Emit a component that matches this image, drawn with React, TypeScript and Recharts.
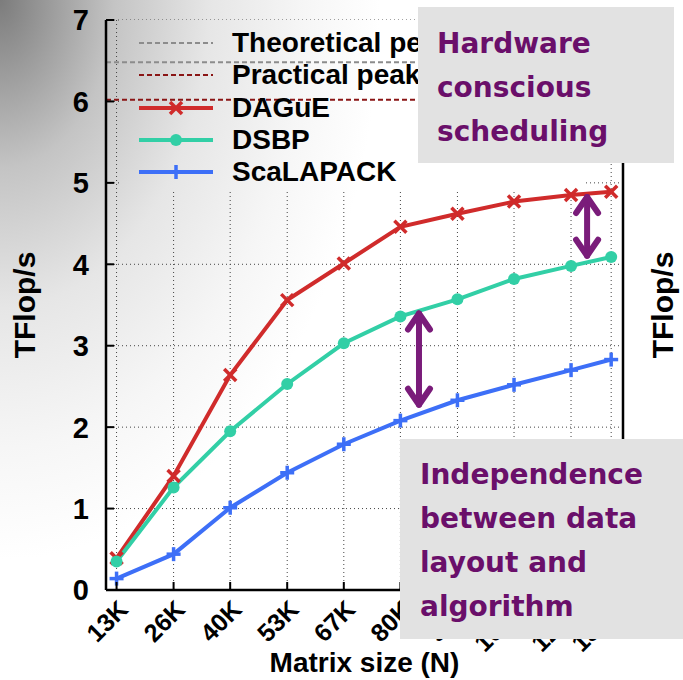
import React from 'react';
import { LineChart, Line, XAxis, YAxis, CartesianGrid, ReferenceLine, ReferenceArea, Legend, Label } from 'recharts';

const matrixSizes = [13.4, 26.9, 40.3, 53.8, 67.2, 80.6, 94.1, 107.5, 121.0, 130.5];
const sizeLabels = ['13K', '26K', '40K', '53K', '67K', '80K', '94K', '108K', '121K', '130K'];
const dague = [0.39, 1.4, 2.64, 3.56, 4.01, 4.46, 4.62, 4.77, 4.85, 4.89];
const dsbp = [0.35, 1.26, 1.95, 2.53, 3.03, 3.36, 3.57, 3.82, 3.98, 4.09];
const scalapack = [0.14, 0.44, 1.01, 1.44, 1.79, 2.08, 2.33, 2.52, 2.7, 2.83];
const yTicks = [0, 1, 2, 3, 4, 5, 6, 7];
const theoreticalPeak = 6.48;
const practicalPeak = 6.02;

const data = matrixSizes.map((n, i) => ({ n, dague: dague[i], dsbp: dsbp[i], scalapack: scalapack[i] }));

const FONT = "'Liberation Sans', Arial, sans-serif";
const RED = '#d02b2b';
const TEAL = '#32cfa6';
const BLUE = '#3d6ff7';
const GRAY = '#8c8c8c';
const DARKRED = '#8a1515';
const PURPLE = '#7a1c7a';
const TEXT_PURPLE = '#6a0f6a';

const legendItems = [
  { name: 'Theoretical peak', color: GRAY, dash: '5 3', width: 2, marker: 'none' },
  { name: 'Practical peak', color: DARKRED, dash: '5 3', width: 2, marker: 'none' },
  { name: 'DAGuE', color: RED, dash: undefined, width: 4, marker: 'cross' },
  { name: 'DSBP', color: TEAL, dash: undefined, width: 4, marker: 'circle' },
  { name: 'ScaLAPACK', color: BLUE, dash: undefined, width: 4, marker: 'plus' },
];

const marker = (kind: string, cx: number, cy: number, color: string, key?: any) => {
  if (kind === 'cross') {
    const s = 6;
    return (
      <g key={key} stroke={color} strokeWidth={3.5}>
        <line x1={cx - s} y1={cy - s} x2={cx + s} y2={cy + s} />
        <line x1={cx - s} y1={cy + s} x2={cx + s} y2={cy - s} />
      </g>
    );
  }
  if (kind === 'circle') return <circle key={key} cx={cx} cy={cy} r={6} fill={color} />;
  if (kind === 'plus') {
    const s = 7;
    return (
      <g key={key} stroke={color} strokeWidth={3.5}>
        <line x1={cx - s} y1={cy} x2={cx + s} y2={cy} />
        <line x1={cx} y1={cy - s} x2={cx} y2={cy + s} />
      </g>
    );
  }
  return null;
};

const makeDot = (kind: string, color: string) => (p: any) => marker(kind, p.cx, p.cy, color, p.index);

const BottomTick = ({ x, y, payload }: any) => {
  const i = matrixSizes.indexOf(payload.value);
  const tx = x + 13;
  const ty = y + 21;
  return (
    <g>
      <line x1={x} y1={y} x2={x} y2={y - 8} stroke="#000" strokeWidth={2} />
      <text x={tx} y={ty} textAnchor="end" transform={`rotate(-45 ${tx} ${ty})`}
        fontFamily={FONT} fontWeight="bold" fontSize={25} fill="#000">{sizeLabels[i]}</text>
    </g>
  );
};

const TopTick = ({ x, y }: any) => <line x1={x} y1={y} x2={x} y2={y + 8} stroke="#000" strokeWidth={2} />;

const LeftTick = ({ x, y, payload }: any) => (
  <g>
    <line x1={x} y1={y} x2={x + 8} y2={y} stroke="#000" strokeWidth={2} />
    <text x={x - 17} y={y} dy="0.36em" textAnchor="end" fontFamily={FONT} fontWeight="bold" fontSize={29} fill="#000">
      {payload.value}
    </text>
  </g>
);

const RightTick = ({ x, y }: any) => <line x1={x} y1={y} x2={x - 8} y2={y} stroke="#000" strokeWidth={2} />;

const VerticalTitle = (dx: number) => (props: any) => {
  const vb = props.viewBox;
  const cx = vb.x + dx;
  const cy = vb.y + vb.height / 2;
  return (
    <text x={cx} y={cy} dy="0.36em" textAnchor="middle" transform={`rotate(-90 ${cx} ${cy})`}
      fontFamily={FONT} fontWeight="bold" fontSize={30} fill="#000">TFlop/s</text>
  );
};

const XTitle = (props: any) => {
  const vb = props.viewBox;
  return (
    <text x={vb.x + vb.width / 2} y={vb.y + 82} textAnchor="middle" fontFamily={FONT} fontWeight="bold" fontSize={28} fill="#000">
      Matrix size (N)
    </text>
  );
};

// purple double-headed annotation arrow
const DoubleArrow = (props: any) => {
  const { x1, y1, y2 } = props;
  const top = Math.min(y1, y2);
  const bot = Math.max(y1, y2);
  return (
    <g stroke={PURPLE} strokeWidth={6} strokeLinecap="round" strokeLinejoin="round" fill="none">
      <line x1={x1} y1={top + 2} x2={x1} y2={bot - 2} />
      <polyline points={`${x1 - 11},${top + 18} ${x1},${top + 2} ${x1 + 11},${top + 18}`} />
      <polyline points={`${x1 - 11},${bot - 18} ${x1},${bot - 2} ${x1 + 11},${bot - 18}`} />
    </g>
  );
};

const renderLegend = () => (
  <div style={{ fontFamily: FONT, fontWeight: 'bold', fontSize: 28, color: '#000' }}>
    {legendItems.map((it) => (
      <div key={it.name} style={{ display: 'flex', alignItems: 'center', height: 32.25, whiteSpace: 'nowrap' }}>
        <svg width={76} height={20} style={{ marginRight: 17, overflow: 'visible' }}>
          <line x1={0} y1={10} x2={74} y2={10} stroke={it.color} strokeWidth={it.width} strokeDasharray={it.dash} />
          {marker(it.marker, 37, 10, it.color)}
        </svg>
        <span style={{ lineHeight: '32px' }}>{it.name}</span>
      </div>
    ))}
  </div>
);

const boxText: React.CSSProperties = {
  position: 'absolute',
  background: '#e2e2e2',
  color: TEXT_PURPLE,
  fontFamily: "'DejaVu Sans', sans-serif",
  fontWeight: 'bold',
  fontSize: 28,
  lineHeight: '44px',
  boxSizing: 'border-box',
};

export default function App() {
  return (
    <div style={{ position: 'absolute', left: 0, top: 0, width: 683, height: 680, overflow: 'hidden' }}>
      <svg width={683} height={680} style={{ position: 'absolute', left: 0, top: 0 }}>
        <defs>
          <radialGradient id="bgGrad" gradientUnits="userSpaceOnUse" cx={0} cy={0} r={1} gradientTransform="scale(380 560)">
            <stop offset="0" stopColor="#7c7c7c" />
            <stop offset="0.3" stopColor="#c4c4c4" />
            <stop offset="0.55" stopColor="#e6e6e6" />
            <stop offset="0.8" stopColor="#f6f6f6" />
            <stop offset="1" stopColor="#ffffff" />
          </radialGradient>
        </defs>
        <rect x={0} y={0} width={683} height={680} fill="url(#bgGrad)" />
      </svg>
      <LineChart width={683} height={680} data={data} margin={{ top: 20, right: 0, bottom: 0, left: 0 }}>
        <CartesianGrid stroke="#444" strokeDasharray="1 3" />
        <ReferenceArea x1={14.3} x2={124.1} y1={4.9} y2={7} fill="url(#bgGrad)" fillOpacity={1} stroke="none" />
        <XAxis dataKey="n" type="number" domain={[10.9, 133.3]} ticks={matrixSizes} interval={0} height={90}
          tickSize={0} tickMargin={0} tick={<BottomTick />} axisLine={{ stroke: '#000', strokeWidth: 2.5 }} tickLine={false}>
          <Label content={XTitle} />
        </XAxis>
        <XAxis xAxisId="top" orientation="top" dataKey="n" type="number" domain={[10.9, 133.3]} ticks={matrixSizes} interval={0}
          height={0} tickSize={0} tickMargin={0} tick={<TopTick />} axisLine={{ stroke: '#000', strokeWidth: 2.5 }} tickLine={false} />
        <YAxis type="number" domain={[0, 7]} ticks={yTicks} interval={0} width={106}
          tickSize={0} tickMargin={0} tick={<LeftTick />} axisLine={{ stroke: '#000', strokeWidth: 2.5 }} tickLine={false}>
          <Label content={VerticalTitle(24)} />
        </YAxis>
        <YAxis yAxisId="right" orientation="right" type="number" domain={[0, 7]} ticks={yTicks} interval={0} width={60}
          tickSize={0} tickMargin={0} tick={<RightTick />} axisLine={{ stroke: '#000', strokeWidth: 2.5 }} tickLine={false}>
          <Label content={VerticalTitle(39)} />
        </YAxis>
        <ReferenceLine y={theoreticalPeak} stroke={GRAY} strokeWidth={2} strokeDasharray="5 3" />
        <ReferenceLine y={practicalPeak} stroke={DARKRED} strokeWidth={2} strokeDasharray="5 3" />
        <Line dataKey="dague" name="DAGuE" stroke={RED} strokeWidth={4} dot={makeDot('cross', RED)} activeDot={false} isAnimationActive={false} />
        <Line dataKey="dsbp" name="DSBP" stroke={TEAL} strokeWidth={4} dot={makeDot('circle', TEAL)} activeDot={false} isAnimationActive={false} />
        <Line dataKey="scalapack" name="ScaLAPACK" stroke={BLUE} strokeWidth={4} dot={makeDot('plus', BLUE)} activeDot={false} isAnimationActive={false} />
        <ReferenceLine segment={[{ x: 124.8, y: 4.85 }, { x: 124.8, y: 4.08 }]} shape={DoubleArrow} />
        <ReferenceLine segment={[{ x: 85.0, y: 3.42 }, { x: 85.0, y: 2.25 }]} shape={DoubleArrow} />
        <Legend layout="vertical" align="center" verticalAlign="middle" content={renderLegend}
          wrapperStyle={{ left: 139, top: 27, width: 'auto', height: 'auto' }} />
      </LineChart>
      <div style={{ ...boxText, left: 418, top: 7, width: 256, height: 156, padding: '15px 0 0 19px' }}>
        Hardware<br />conscious<br />scheduling
      </div>
      <div style={{ ...boxText, left: 400, top: 439, width: 283, height: 200, padding: '14px 0 0 20px' }}>
        Independence<br />between data<br />layout and<br />algorithm
      </div>
    </div>
  );
}
